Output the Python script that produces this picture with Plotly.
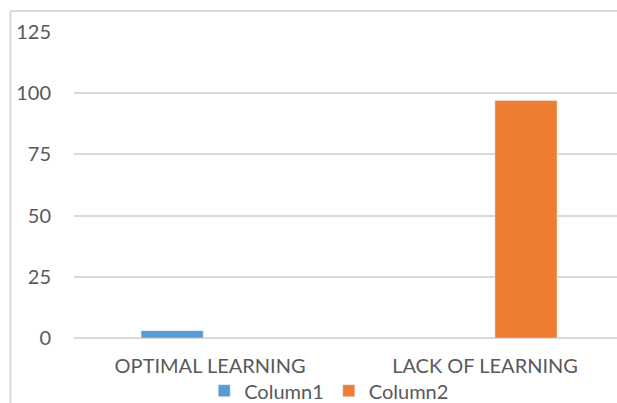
import plotly.graph_objects as go

categories = ["OPTIMAL LEARNING", "LACK OF LEARNING"]
column1 = [3, None]
column2 = [None, 97]
y_ticks = [0, 25, 50, 75, 100, 125]

fig = go.Figure()

# Column1
fig.add_trace(
    go.Bar(
        x=categories,
        y=column1,
        name="Column1",
        marker=dict(color="#5b9bd5"),
        width=0.226,
        offset=-0.251,
    )
)

# Column2
fig.add_trace(
    go.Bar(
        x=categories,
        y=column2,
        name="Column2",
        marker=dict(color="#ed7d31"),
        width=0.226,
        offset=0.036,
    )
)

# chart frame (left and top edges visible)
frame = dict(type="line", xref="paper", yref="paper",
             line=dict(color="#d9d9d9", width=2))
fig.add_shape(x0=-0.117, x1=-0.117, y0=1.069, y1=-0.3, **frame)
fig.add_shape(x0=-0.117, x1=1.05, y0=1.069, y1=1.069, **frame)

# figure a bit taller than the window, frame runs off the bottom like the original
fig.update_layout(
    width=617,
    height=415,
    margin=dict(l=74, r=0, t=32, b=77),
    paper_bgcolor="white",
    plot_bgcolor="white",
    font=dict(family="Lato, Open Sans, sans-serif", size=20, color="#595959"),
    barmode="overlay",
    showlegend=True,
    legend=dict(
        orientation="h",
        x=0.47,
        xanchor="center",
        y=-0.236,
        yanchor="bottom",
        bgcolor="rgba(0,0,0,0)",
        font=dict(size=20, color="#595959"),
        itemwidth=30,
        tracegroupgap=0,
    ),
    xaxis=dict(
        range=[-0.495, 1.48],
        showgrid=False,
        showline=False,
        ticks="",
        ticklabelstandoff=14,
        tickfont=dict(size=20, color="#595959"),
    ),
    yaxis=dict(
        range=[0, 125],
        tickvals=y_ticks,
        showgrid=True,
        gridcolor="#d9d9d9",
        gridwidth=2,
        zeroline=True,
        zerolinecolor="#d9d9d9",
        zerolinewidth=2,
        showline=False,
        ticks="",
        ticklabelstandoff=22,
        tickfont=dict(size=20, color="#595959"),
    ),
)

fig.write_html(
    "out.html",
    config={"displayModeBar": False},
    post_script="document.body.style.margin='0';"
                "document.body.style.overflow='hidden';"
                "document.documentElement.style.overflow='hidden';",
)
